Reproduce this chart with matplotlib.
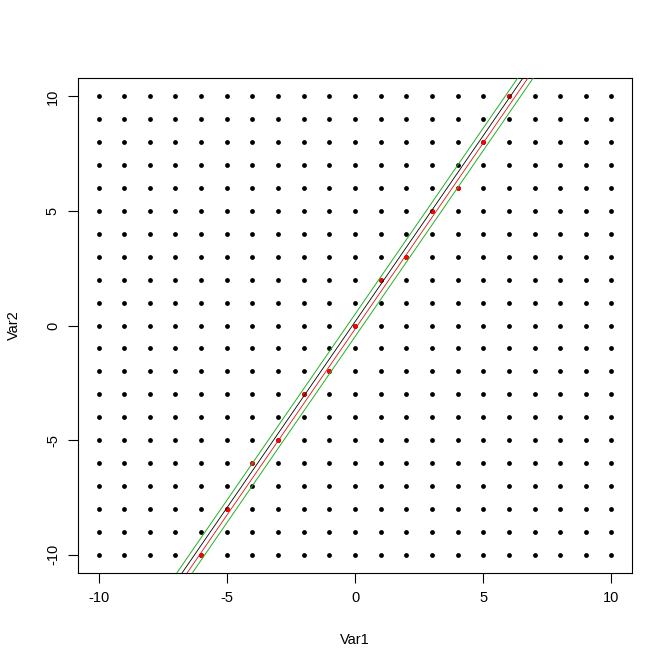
import numpy as np
import matplotlib.pyplot as plt

plt.rcParams['font.family'] = ['Liberation Sans', 'DejaVu Sans']
plt.rcParams['axes.unicode_minus'] = False

# grid of points
var1 = list(range(-10, 11))
var2 = list(range(-10, 11))

# highlighted points near the line
red_x = [-6, -5, -4, -3, -2, -1, 0, 1, 2, 3, 4, 5, 6]
red_y = [-10, -8, -6, -5, -3, -2, 0, 2, 3, 5, 6, 8, 10]

slope = 1.625
black_b = 0.16
red_b = -0.16
green_b = [0.49, -0.49]

fig = plt.figure(figsize=(6.72, 6.72), dpi=100)
ax = fig.add_axes([78 / 672, 1 - 573 / 672, (632 - 78) / 672, (573 - 78) / 672])

gx, gy = np.meshgrid(var1, var2)
ax.scatter(gx.ravel(), gy.ravel(), s=12, c='black', linewidths=0, zorder=2)
ax.scatter(red_x, red_y, s=12, c='red', linewidths=0, zorder=3)

xs = np.array([-12, 12])
for b in green_b:
    ax.plot(xs, slope * xs + b, color='#22b022', lw=0.7, zorder=4)
ax.plot(xs, slope * xs + black_b, color='black', lw=0.6, zorder=4)
ax.plot(xs, slope * xs + red_b, color='#dd1111', lw=0.6, zorder=4)

ax.set_xlim(-10.8, 10.8)
ax.set_ylim(-10.8, 10.8)
ax.set_xticks([-10, -5, 0, 5, 10])
ax.set_yticks([-10, -5, 0, 5, 10])
ax.tick_params(length=7, width=0.8, labelsize=10.5, pad=6)
for lab in ax.get_yticklabels():
    lab.set_rotation(90)
    lab.set_va('center')
for s in ax.spines.values():
    s.set_linewidth(0.8)

ax.set_xlabel('Var1', fontsize=10.5, labelpad=20)
ax.set_ylabel('Var2', fontsize=10.5, labelpad=18)

fig.savefig('out.png', dpi=100)
